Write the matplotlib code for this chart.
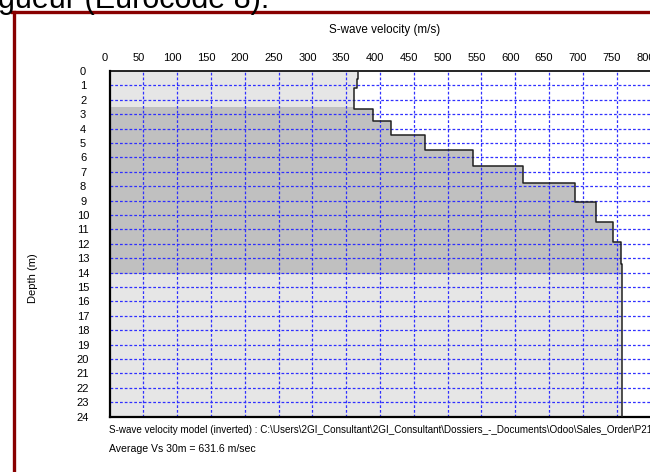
import matplotlib
matplotlib.use('Agg')
import matplotlib.pyplot as plt
from matplotlib.patches import Rectangle
from matplotlib.lines import Line2D
from matplotlib.transforms import ScaledTranslation

plt.rcParams['font.family'] = ['Liberation Sans', 'DejaVu Sans']

# layer tops (m) and S-wave velocities (m/s)
layer_top = [0, 0.58, 1.2, 2.66, 3.47, 4.44, 5.48, 6.59, 7.79, 9.11, 10.46, 11.89, 13.41]
vs = [368, 366, 362, 390, 416, 467, 537, 611, 689, 720, 744, 756, 758]
max_depth = 24
band_top, band_bot = 2.5, 14.0   # darker band
x_ticks = list(range(0, 801, 50))
y_ticks = list(range(0, 25))
vs30 = 631.6
path_txt = ('S-wave velocity model (inverted) : C:\\Users\\2GI_Consultant\\2GI_Consultant'
            '\\Dossiers_-_Documents\\Odoo\\Sales_Order\\P21.0xx\\masw_result.sw')

W, H = 650, 472
fig = plt.figure(figsize=(W / 100, H / 100), dpi=100)
ax = fig.add_axes([109.5 / W, 1 - 416.7 / H, (650.5 - 109.5) / W, (416.7 - 71) / H])

d = layer_top + [max_depth]
v = vs + [vs[-1]]

# fills
ax.fill_betweenx(d, 0, v, step='post', color='#e6e6e6', lw=0, zorder=1)
dark = ax.fill_betweenx(d, 0, v, step='post', color='#c0c0c0', lw=0, zorder=1.1)
clip = Rectangle((0, band_top), 800, band_bot - band_top, transform=ax.transData)
dark.set_clip_path(clip)

# grid
for x in x_ticks[1:-1]:
    ax.axvline(x, color='#3030ff', lw=0.9, dashes=(2.2, 1.6), zorder=2)
for y in y_ticks[1:-1]:
    ax.axhline(y, color='#3030ff', lw=0.9, dashes=(2.2, 1.6), zorder=2)

# profile
ax.plot(v, d, drawstyle='steps-pre', color='#202020', lw=1.1, zorder=3)

ax.set_xlim(0, 800)
ax.set_ylim(max_depth, 0)
ax.xaxis.tick_top()
ax.set_xticks(x_ticks)
ax.set_yticks(y_ticks)
ax.set_xticklabels([str(t) for t in x_ticks], fontsize=8)
ax.set_yticklabels([str(t) for t in y_ticks], fontsize=8, ha='center')
ax.tick_params(axis='x', length=0, pad=6)
ax.tick_params(axis='y', length=0, pad=19)
off = ScaledTranslation(-5 / 100, 0, fig.dpi_scale_trans)
for lab in ax.get_xticklabels():
    lab.set_transform(lab.get_transform() + off)

for s in ['left', 'bottom']:
    ax.spines[s].set_linewidth(1.6)
ax.spines['top'].set_linewidth(1.2)
ax.spines['right'].set_color('#888888')

fig.text(385 / W, 1 - 30 / H, 'S-wave velocity (m/s)', fontsize=8.4, ha='center', va='center')
fig.text(33 / W, 1 - 278 / H, 'Depth (m)', fontsize=8, rotation=90, ha='center', va='center')
fig.text(109 / W, 1 - 430 / H, path_txt, fontsize=7.1, ha='left', va='center')
fig.text(109 / W, 1 - 449 / H, 'Average Vs 30m = %.1f m/sec' % vs30, fontsize=7.6, ha='left', va='center')

# cropped heading and frame from the page
fig.text(-2 / W, 1 - 8 / H, 'gueur (Eurocode 8).', fontsize=22, ha='left', va='baseline')
fig.add_artist(Line2D([13.5 / W, 13.5 / W], [0, 1 - 11.5 / H], color='#880000', lw=2.4))
fig.add_artist(Line2D([12.3 / W, 1], [1 - 11.5 / H, 1 - 11.5 / H], color='#880000', lw=2.4))

fig.savefig('out.png', dpi=100)
